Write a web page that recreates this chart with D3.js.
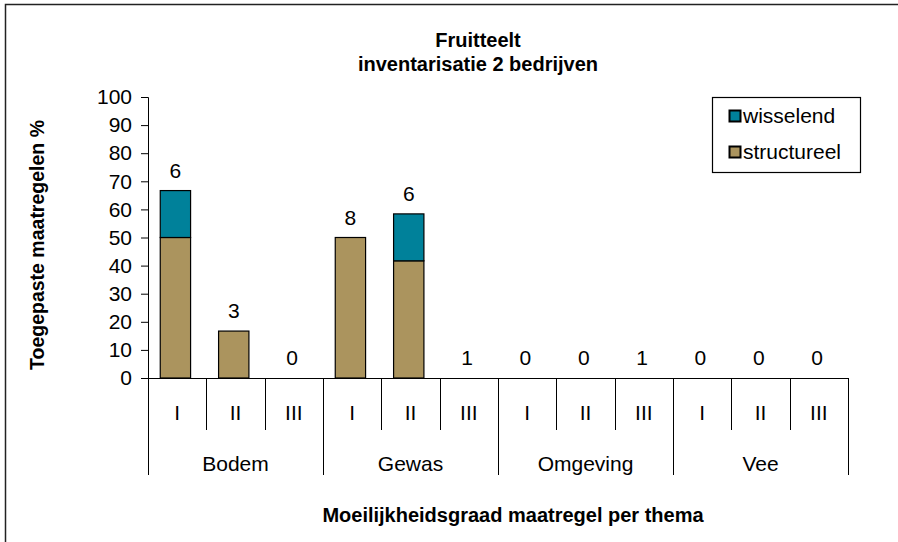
<!DOCTYPE html>
<html>
<head>
<meta charset="utf-8">
<script src="https://cdn.jsdelivr.net/npm/d3@7"></script>
<style>
  body { margin: 0; background: #fff; }
  svg { font-family: "Liberation Sans", Arial, sans-serif; }
</style>
</head>
<body>
<div id="chart"></div>
<script>
//Datos
const themes = ['Bodem', 'Gewas', 'Omgeving', 'Vee'];
const grades = ['I', 'II', 'III'];
const structureel = [50, 16.7, 0, 50, 41.7, 0, 0, 0, 0, 0, 0, 0];
const wisselend = [16.7, 0, 0, 0, 16.7, 0, 0, 0, 0, 0, 0, 0];
const counts = [6, 3, 0, 8, 6, 1, 0, 0, 1, 0, 0, 0];
const yTicks = [0, 10, 20, 30, 40, 50, 60, 70, 80, 90, 100];

const COLOR_WISS = '#00819a', COLOR_STRUC = '#ab945e';
const FS = 21;

const W = 898, H = 542;
let margin = {top: 97, right: 50, bottom: 164, left: 148},
    width = W - margin.left - margin.right,
    height = H - margin.top - margin.bottom;

let root = d3.select('#chart').append('svg')
    .attr('width', W).attr('height', H);

//Marco exterior (solo arriba e izquierda visibles)
root.append('path')
    .attr('d', 'M5.5,' + (H + 2) + 'V4.5H' + (W + 2))
    .attr('fill', 'none').attr('stroke', '#222').attr('stroke-width', 1.5);

let svg = root.append('g').attr('transform', 'translate(' + margin.left + ',' + margin.top + ')');

let cats = [];
themes.forEach(t => grades.forEach(g => cats.push(t + '|' + g)));
let data = cats.map((c, i) => ({cat: c, structureel: structureel[i], wisselend: wisselend[i], n: counts[i]}));

let x = d3.scaleBand().domain(cats).range([0, width]).padding(0);
let y = d3.scaleLinear().domain([0, 100]).range([height, 0]);

//Eje Y
svg.append('g')
    .call(d3.axisLeft(y).tickValues(yTicks).tickSize(7).tickPadding(9))
    .call(g => g.attr('font-size', FS).attr('font-family', null))
    .call(g => g.selectAll('text').attr('fill', '#000'))
    .call(g => g.selectAll('line,path').attr('stroke', '#000'))
    .call(g => g.select('.domain').attr('d', 'M-7,0.5H0.5V' + (height + 0.5)));

//Barras apiladas
let stacked = d3.stack().keys(['structureel', 'wisselend'])(data);
let color = d3.scaleOrdinal().domain(['structureel', 'wisselend']).range([COLOR_STRUC, COLOR_WISS]);

svg.append('g').selectAll('g')
    .data(stacked).enter().append('g')
    .attr('fill', d => color(d.key))
    .selectAll('rect')
    .data(d => d.filter(s => s[1] > s[0])).enter()
    .append('rect')
    .attr('x', d => x(d.data.cat) + x.bandwidth() * 0.21)
    .attr('width', x.bandwidth() * 0.52)
    .attr('y', d => y(d[1]))
    .attr('height', d => y(d[0]) - y(d[1]))
    .attr('stroke', '#000').attr('stroke-width', 1.2);

//Etiquetas
svg.append('g').selectAll('text')
    .data(data).enter().append('text')
    .attr('x', d => x(d.cat) + x.bandwidth() * 0.47)
    .attr('y', d => y(d.structureel + d.wisselend) - 13)
    .attr('text-anchor', 'middle')
    .attr('font-size', FS)
    .text(d => d.n);

//Eje X multinivel
let xg = svg.append('g').attr('transform', 'translate(0,' + height + ')');
xg.append('line').attr('x1', -7).attr('x2', width).attr('y1', 0.5).attr('y2', 0.5).attr('stroke', '#000');
cats.forEach((c, i) => {
    let x0 = Math.round(x(c)) + 0.5;
    xg.append('line').attr('x1', x0).attr('x2', x0).attr('y1', 0)
        .attr('y2', i % 3 === 0 ? 97 : 52).attr('stroke', '#000');
});
xg.append('line').attr('x1', width + 0.5).attr('x2', width + 0.5).attr('y1', 0).attr('y2', 97).attr('stroke', '#000');

xg.selectAll('.grade').data(data).enter().append('text')
    .attr('x', d => x(d.cat) + x.bandwidth() / 2)
    .attr('y', 42)
    .attr('text-anchor', 'middle').attr('font-size', FS)
    .text(d => d.cat.split('|')[1]);

xg.selectAll('.theme').data(themes).enter().append('text')
    .attr('x', (t, i) => x(t + '|II') + x.bandwidth() / 2)
    .attr('y', 93)
    .attr('text-anchor', 'middle').attr('font-size', FS)
    .text(t => t);

//Títulos
root.append('text').attr('x', 478).attr('y', 47).attr('text-anchor', 'middle')
    .attr('font-size', 20).attr('font-weight', 'bold').text('Fruitteelt');
root.append('text').attr('x', 478).attr('y', 71).attr('text-anchor', 'middle')
    .attr('font-size', 20).attr('font-weight', 'bold').text('inventarisatie 2 bedrijven');
root.append('text').attr('x', 513).attr('y', 522).attr('text-anchor', 'middle')
    .attr('font-size', 20).attr('font-weight', 'bold').text('Moeilijkheidsgraad maatregel per thema');
root.append('text').attr('transform', 'translate(44,245) rotate(-90)').attr('text-anchor', 'middle')
    .attr('font-size', 19.5).attr('font-weight', 'bold').text('Toegepaste maatregelen %');

//Leyenda
let leg = root.append('g').attr('transform', 'translate(712,97)');
leg.append('rect').attr('x', 0.5).attr('y', 0.5).attr('width', 148).attr('height', 75)
    .attr('fill', '#fff').attr('stroke', '#000').attr('stroke-width', 1.2);
[['wisselend', COLOR_WISS, 19], ['structureel', COLOR_STRUC, 55]].forEach(([k, c, yy]) => {
    leg.append('rect').attr('x', 17.5).attr('y', yy - 5.5).attr('width', 11).attr('height', 11)
        .attr('fill', c).attr('stroke', '#000').attr('stroke-width', 2);
    leg.append('text').attr('x', 31).attr('y', yy + 7).attr('font-size', FS).text(k);
});
</script>
</body>
</html>
